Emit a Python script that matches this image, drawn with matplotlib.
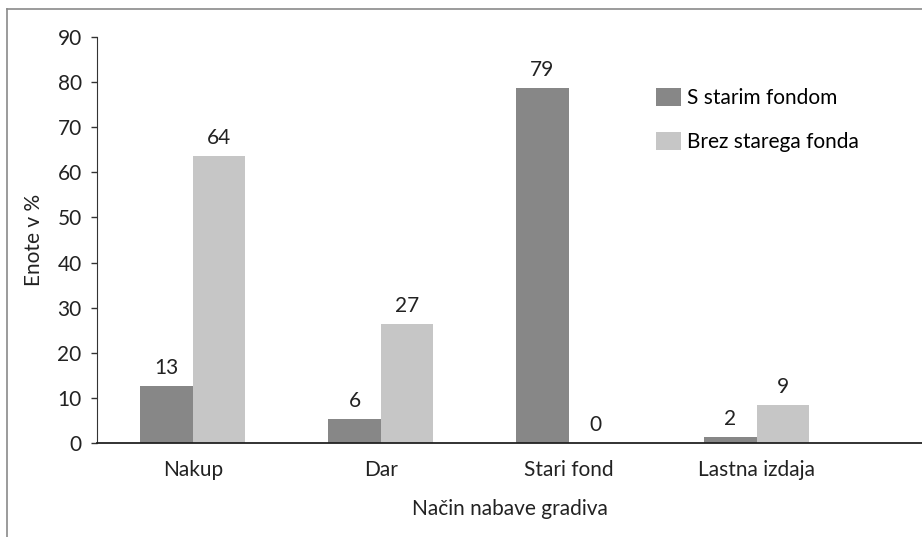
import matplotlib.pyplot as plt
import numpy as np
from matplotlib.lines import Line2D

plt.rcParams['font.family'] = ['Lato', 'DejaVu Sans']

categories = ["Nakup", "Dar", "Stari fond", "Lastna izdaja"]
s_starim = [12.6, 5.3, 78.7, 1.3]
brez_starega = [63.6, 26.4, 0.0, 8.4]
s_starim_labels = ["13", "6", "79", "2"]
brez_starega_labels = ["64", "27", "0", "9"]
series_names = ["S starim fondom", "Brez starega fonda"]

dark = "#878787"
light = "#c6c6c6"
txt = "#222222"
fs = 15

fig = plt.figure(figsize=(9.22, 5.37), dpi=100)
W, H = 922, 537
ax = fig.add_axes([97 / W, (H - 443) / H, (922 - 97) / W, (443 - 37) / H])

x = np.arange(len(categories))
w = 0.28
b1 = ax.bar(x - w / 2, s_starim, w, color=dark, label=series_names[0])
b2 = ax.bar(x + w / 2, brez_starega, w, color=light, label=series_names[1])

for bars, labels in ((b1, s_starim_labels), (b2, brez_starega_labels)):
    for rect, lab in zip(bars, labels):
        ax.annotate(lab, (rect.get_x() + rect.get_width() / 2, rect.get_height()),
                    xytext=(0, 6), textcoords="offset points",
                    ha="center", va="bottom", fontsize=fs, color=txt)

ax.set_xlim(-0.51, 3.88)
ax.set_ylim(0, 90)
ax.set_yticks(range(0, 91, 10))
ax.set_xticks(x)
ax.set_xticklabels(categories)
ax.tick_params(axis="y", length=4, width=1, color="#333333", pad=7, labelsize=fs)
ax.tick_params(axis="x", length=0, pad=12, labelsize=fs)
for t in ax.get_xticklabels() + ax.get_yticklabels():
    t.set_color(txt)
ax.spines["top"].set_visible(False)
ax.spines["right"].set_visible(False)
ax.spines["left"].set_color("#333333")
ax.spines["bottom"].set_color("#222222")
ax.spines["bottom"].set_linewidth(1.3)

ax.set_ylabel("Enote v %", fontsize=fs, color=txt, labelpad=10)
ax.set_xlabel("Način nabave gradiva", fontsize=fs, color=txt, labelpad=14)

ax.legend(loc="upper left", bbox_to_anchor=(0.655, 0.92), frameon=False,
          fontsize=fs, handlelength=1.2, handleheight=0.9, handletextpad=0.3,
          labelspacing=1.15)

# outer frame (left and top edges of the original chart area)
fig.add_artist(Line2D([7 / W, 7 / W], [0, 1 - 9 / H], color="#8a8a8a", lw=1.2,
                      transform=fig.transFigure))
fig.add_artist(Line2D([7 / W, 1], [1 - 9 / H, 1 - 9 / H], color="#8a8a8a", lw=1.2,
                      transform=fig.transFigure))

fig.savefig("out.png", dpi=100)
